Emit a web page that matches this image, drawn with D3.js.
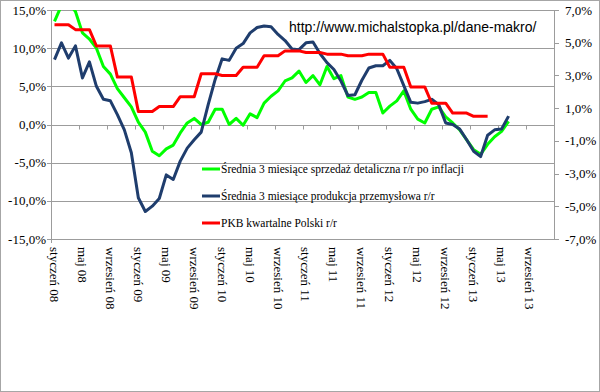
<!DOCTYPE html>
<html>
<head>
<meta charset="utf-8">
<script src="https://cdn.jsdelivr.net/npm/d3@7"></script>
<style>
  body { margin: 0; background: #fff; }
  svg text { font-family: "Liberation Serif", "Times New Roman", serif; }
  svg text.url { font-family: "Liberation Sans", Arial, sans-serif; }
</style>
</head>
<body>
<div id="chart"></div>
<script>
// categories: months Jan 2008 .. Dec 2013
const monthNames = ['styczeń', 'luty', 'marzec', 'kwiecień', 'maj', 'czerwiec', 'lipiec',
  'sierpień', 'wrzesień', 'październik', 'listopad', 'grudzień'];
const years = ['08', '09', '10', '11', '12', '13'];
const categories = years.flatMap(y => monthNames.map(m => `${m} ${y}`));

// Średnia 3 miesiące sprzedaż detaliczna r/r po inflacji (left axis, %)
const retail = [
  13.5, 15.6, 16.0, 14.8, 12.0, 11.2, 10.0, 7.6, 6.6, 4.7, 3.5, 2.3,
  0.3, -1.0, -3.5, -4.1, -3.2, -2.7, -1.1, 0.2, 0.8, 0.0, 0.3, 2.0,
  2.0, 0.0, 0.8, -0.1, 1.4, 0.9, 2.8, 3.7, 4.4, 5.7, 6.1, 7.0,
  5.5, 6.4, 5.2, 7.6, 6.0, 6.4, 3.6, 3.3, 3.6, 4.2, 4.2, 1.5,
  2.4, 3.1, 4.4, 2.0, 0.7, 0.2, 2.0, 2.3, 1.0, 0.2, -0.7, -2.0,
  -3.3, -3.9, -2.6, -1.6, -0.9, 0.4
];

// Średnia 3 miesiące produkcja przemysłowa r/r (left axis, %)
const production = [
  8.5, 10.7, 8.7, 10.3, 6.1, 8.2, 5.0, 3.3, 3.1, 1.3, -0.7, -3.7,
  -9.6, -11.4, -10.7, -9.7, -6.6, -7.2, -4.8, -3.1, -2.0, -1.0, 2.6, 5.9,
  8.6, 8.4, 10.0, 10.6, 12.0, 12.7, 12.9, 12.8, 11.8, 11.0, 9.9, 9.8,
  10.7, 10.8, 9.3, 8.1, 7.2, 5.7, 3.8, 3.9, 5.8, 7.4, 7.7, 7.7,
  8.4, 7.3, 5.1, 2.9, 2.8, 3.0, 3.3, 2.6, 0.2, 0.0, -0.6, -2.0,
  -3.5, -4.2, -1.4, -0.7, -0.6, 1.1
];

// PKB kwartalne Polski r/r (right axis, %), quarterly value shown for each month
const gdp = [
  6.1, 6.1, 6.1, 5.8, 5.8, 5.8, 4.8, 4.8, 4.8, 2.9, 2.9, 2.9,
  0.8, 0.8, 0.8, 1.1, 1.1, 1.1, 1.7, 1.7, 1.7, 3.1, 3.1, 3.1,
  3.0, 3.0, 3.0, 3.5, 3.5, 3.5, 4.2, 4.2, 4.2, 4.5, 4.5, 4.5,
  4.4, 4.4, 4.4, 4.3, 4.3, 4.3, 4.2, 4.2, 4.2, 4.3, 4.3, 4.3,
  3.5, 3.5, 3.5, 2.3, 2.3, 2.3, 1.3, 1.3, 1.3, 0.7, 0.7, 0.7,
  0.5, 0.5, 0.5
];

const leftTicks = [-15, -10, -5, 0, 5, 10, 15];
const rightTicks = [-7, -5, -3, -1, 1, 3, 5, 7];

const seriesList = [
  { name: 'Średnia 3 miesiące sprzedaż detaliczna r/r po inflacji', values: retail, color: '#00ff00', axis: 'left' },
  { name: 'Średnia 3 miesiące produkcja przemysłowa r/r', values: production, color: '#1f3d6d', axis: 'left' },
  { name: 'PKB kwartalne Polski r/r', values: gdp, color: '#ff0000', axis: 'right' }
];

const width = 600;
const height = 392;
const plot = { left: 51, right: 554, top: 10, bottom: 239 };

const svg = d3.select('#chart')
  .append('svg')
  .attr('width', width)
  .attr('height', height);

svg.append('rect')
  .attr('x', 0.5).attr('y', 0.5)
  .attr('width', width - 1).attr('height', height - 1)
  .attr('fill', '#fff')
  .attr('stroke', '#a6a6a6');

const x = d3.scaleBand().domain(categories).range([plot.left, plot.right]);
const yLeft = d3.scaleLinear().domain([-15, 15]).range([plot.bottom, plot.top]);
const yRight = d3.scaleLinear().domain([-7, 7]).range([plot.bottom, plot.top]);
const fmt = v => v.toFixed(1).replace('.', ',') + '%';
const cx = i => x(categories[i]) + x.bandwidth() / 2;

// gridlines
svg.append('g')
  .selectAll('line')
  .data(leftTicks)
  .enter()
  .append('line')
  .attr('x1', plot.left - 4)
  .attr('x2', plot.right)
  .attr('y1', d => Math.round(yLeft(d)) + 0.5)
  .attr('y2', d => Math.round(yLeft(d)) + 0.5)
  .attr('stroke', '#9c9c9c');

// axis lines
svg.append('line')
  .attr('x1', plot.left + 0.5).attr('x2', plot.left + 0.5)
  .attr('y1', plot.top).attr('y2', plot.bottom + 4)
  .attr('stroke', '#9c9c9c');
svg.append('line')
  .attr('x1', plot.right + 0.5).attr('x2', plot.right + 0.5)
  .attr('y1', plot.top).attr('y2', plot.bottom)
  .attr('stroke', '#9c9c9c');

// left labels
svg.append('g')
  .selectAll('text')
  .data(leftTicks)
  .enter()
  .append('text')
  .attr('x', 46)
  .attr('y', d => yLeft(d))
  .attr('text-anchor', 'end')
  .attr('dominant-baseline', 'central')
  .attr('font-size', 13)
  .attr('fill', '#000')
  .text(fmt);

// right ticks + labels
svg.append('g')
  .selectAll('line')
  .data(rightTicks)
  .enter()
  .append('line')
  .attr('x1', plot.right)
  .attr('x2', plot.right + 5)
  .attr('y1', d => Math.round(yRight(d)) + 0.5)
  .attr('y2', d => Math.round(yRight(d)) + 0.5)
  .attr('stroke', '#9c9c9c');

svg.append('g')
  .selectAll('text')
  .data(rightTicks)
  .enter()
  .append('text')
  .attr('x', 565)
  .attr('y', d => yRight(d))
  .attr('dominant-baseline', 'central')
  .attr('font-size', 13)
  .attr('fill', '#000')
  .text(fmt);

// category ticks on the 0 line, every 4 months
const tickIdx = d3.range(0, categories.length, 4);
const zeroY = Math.round(yLeft(0)) + 0.5;
svg.append('g')
  .selectAll('line')
  .data(tickIdx.slice(1))
  .enter()
  .append('line')
  .attr('x1', i => Math.round(x(categories[i])) + 0.5)
  .attr('x2', i => Math.round(x(categories[i])) + 0.5)
  .attr('y1', zeroY)
  .attr('y2', zeroY + 4)
  .attr('stroke', '#9c9c9c');

svg.append('g')
  .selectAll('text')
  .data(tickIdx)
  .enter()
  .append('text')
  .attr('transform', i => `translate(${cx(i)},247) rotate(90)`)
  .attr('dominant-baseline', 'central')
  .attr('font-size', 13)
  .attr('fill', '#000')
  .text(i => categories[i]);

// lines
svg.append('clipPath')
  .attr('id', 'plotClip')
  .append('rect')
  .attr('x', plot.left)
  .attr('y', plot.top)
  .attr('width', plot.right - plot.left)
  .attr('height', plot.bottom - plot.top);

const lineGroup = svg.append('g').attr('clip-path', 'url(#plotClip)');
seriesList.forEach(s => {
  const yScale = s.axis === 'left' ? yLeft : yRight;
  const line = d3.line()
    .x((d, i) => cx(i))
    .y(d => yScale(d));
  lineGroup.append('path')
    .datum(s.values)
    .attr('d', line)
    .attr('fill', 'none')
    .attr('stroke', s.color)
    .attr('stroke-width', 3)
    .attr('stroke-linejoin', 'round');
});

// legend
const legend = svg.append('g')
  .selectAll('g')
  .data(seriesList)
  .enter()
  .append('g')
  .attr('transform', (d, i) => `translate(202,${169 + i * 27})`);
legend.append('line')
  .attr('x1', 0).attr('x2', 18)
  .attr('stroke', d => d.color)
  .attr('stroke-width', 3);
legend.append('text')
  .attr('x', 19)
  .attr('dominant-baseline', 'central')
  .attr('font-size', 11.5)
  .attr('fill', '#000')
  .text(d => d.name);

svg.append('text')
  .attr('class', 'url')
  .attr('x', 289)
  .attr('y', 32)
  .attr('font-size', 14)
  .attr('fill', '#000')
  .text('http://www.michalstopka.pl/dane-makro/');
</script>
</body>
</html>
